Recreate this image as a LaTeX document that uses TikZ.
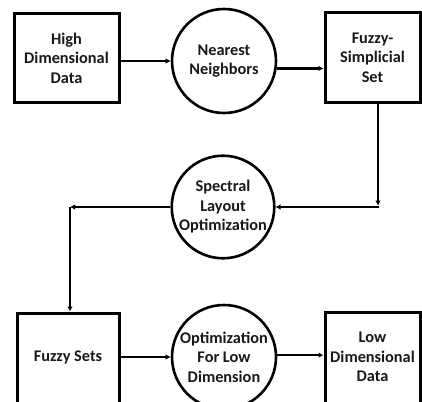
\documentclass[tikz,border=0pt]{standalone}
\usepackage{fontspec}
\setmainfont{Carlito}
\usetikzlibrary{arrows.meta,calc}
\begin{document}
\begin{tikzpicture}[x=1pt,y=-1pt,
  lbl/.style={align=center,font=\fontsize{16.3}{19.5}\selectfont\bfseries,text=black!90},
  boxnode/.style={lbl,draw,line width=3pt,rectangle,inner sep=0pt},
  circnode/.style={lbl,draw,line width=2.6pt,circle,inner sep=0pt,minimum size=104pt},
  arr/.style={line width=2.6pt,-{Latex[length=5pt,width=5.5pt]}},
  ln/.style={line width=2.6pt}]
\useasboundingbox (0,0) rectangle (422,401);
\clip (0,0) rectangle (422,401);
\fill[white] (0,0) rectangle (422,401);
% top row
\node[boxnode,minimum width=105pt,minimum height=88pt] (A) at (66.5,58) {High\\Dimensional\\Data};
\node[circnode] (B) at (224,61) {Nearest\\Neighbors};
\node[boxnode,minimum width=95pt,minimum height=89pt] (C) at (372.5,57.5) {Fuzzy-\\Simplicial\\Set};
% middle
\node[circnode,minimum size=102pt] (D) at (223,207) {Spectral\\Layout\\Optimization};
% bottom row
\node[boxnode,minimum width=102pt,minimum height=92pt] (E) at (68,359) {};
\node[lbl] (Et) at (68,357) {Fuzzy Sets};
\node[circnode] (F) at (224,357) {Optimization\\For Low\\Dimension};
\node[boxnode,minimum width=95pt,minimum height=92pt] (G) at (372.5,358) {};
\node[lbl] (Gt) at (372.5,357) {Low\\Dimensional\\Data};
% corners
\coordinate (k1) at ($(C.south)+(5.5,0)$);
\coordinate (k2) at (k1 |- D.east);
\coordinate (k3) at (70,207);
\coordinate (k4) at (k3 |- E.north);
% connectors
\draw[arr] (A.east |- B.center) -- (B.west);
\draw[arr] (B.-8) -- (B.-8 -| C.west);
\draw[arr] (k1) -- ($(k2)+(0,-1.3)$);
\draw[ln] ($(k2)+(1.3,0)$) -- (k2);
\draw[arr] (k2) -- (D.east);
\draw[arr] (D.west) -- (k3);
\draw[arr] (k3) -- (k4);
\draw[arr] (E.east |- F.center) -- (F.west);
\draw[arr] (F.2) -- (F.2 -| G.west);
\end{tikzpicture}
\end{document}
